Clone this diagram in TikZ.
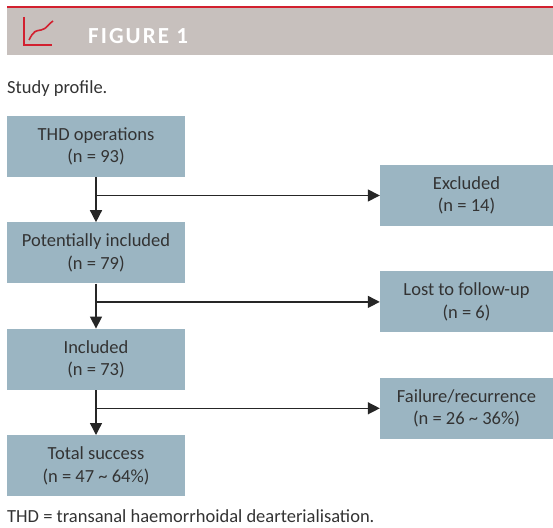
\documentclass[tikz,border=0pt]{standalone}
\usepackage{fontspec}
\setmainfont{Carlito}
\usetikzlibrary{arrows.meta,positioning}
\definecolor{boxblue}{HTML}{9BB5C2}
\definecolor{bandgrey}{HTML}{C7C0BD}
\definecolor{figred}{HTML}{D2202F}
\definecolor{txtgrey}{HTML}{333333}
\tikzset{
	stagebox/.style={
	  fill=boxblue, text=txtgrey, align=center, inner sep=0pt,
	    minimum width=178pt, minimum height=61pt,
	    font=\fontsize{18.5}{22.7}\selectfont},
	sidebox/.style={stagebox, minimum width=173pt},
	flow/.style={-{Triangle[length=12pt,width=12pt]}, line width=1.4pt, draw=black!85}
}
\newcommand{\smalltxt}{\fontsize{18.5}{22.7}\selectfont}

\begin{document}
\begin{tikzpicture}[x=1pt, y=-1pt, node distance=45pt]
	\useasboundingbox (0,0) rectangle (553,527);
	% title band
	\fill[bandgrey] (7,8) rectangle (553,55);
	\fill[figred] (7,6) rectangle (553,8);
	\draw[figred, line width=1.6pt] (24,17) -- (24,45) -- (52,45);
	\draw[figred, line width=1.6pt] (29,40) .. controls (34,30) and (36,31) .. (41,30)
		.. controls (47,29) and (48,24) .. (53,21);
	\node[anchor=west, text=white, inner sep=0pt,
		font=\fontsize{23}{27}\selectfont\bfseries\addfontfeatures{LetterSpace=9}] (title) at (88,36) {FIGURE 1};
	\node[anchor=base west, inner sep=0pt, text=txtgrey, font=\smalltxt] (caption) at (7,93) {Study profile.};
	% flow
	\node[stagebox] (thd) at (96,146.5) {THD operations\\(n = 93)};
	\node[stagebox, below=of thd] (pot) {Potentially included\\(n = 79)};
	\node[stagebox, below=of pot] (inc) {Included\\(n = 73)};
	\node[stagebox, below=of inc] (succ) {Total success\\(n = 47 \textasciitilde{} 64\%)};
	\node[sidebox] (exc) at (466.5,195.5) {Excluded\\(n = 14)};
	\node[sidebox, below=of exc] (lost) {Lost to follow-up\\(n = 6)};
	\node[sidebox, below=of lost] (fail) {Failure/recurrence\\(n = 26 \textasciitilde{} 36\%)};
	\draw[flow] (thd) -- (pot);
	\draw[flow] (pot) -- (inc);
	\draw[flow] (inc) -- (succ);
	\draw[flow] (thd.south |- exc.west) -- (exc.west);
	\draw[flow] (pot.south |- lost.west) -- (lost.west);
	\draw[flow] (inc.south |- fail.west) -- (fail.west);
	\node[anchor=base west, inner sep=0pt, text=txtgrey, font=\smalltxt] (note) at (7,522)
		{THD = transanal haemorrhoidal dearterialisation.};
\end{tikzpicture}
\end{document}
